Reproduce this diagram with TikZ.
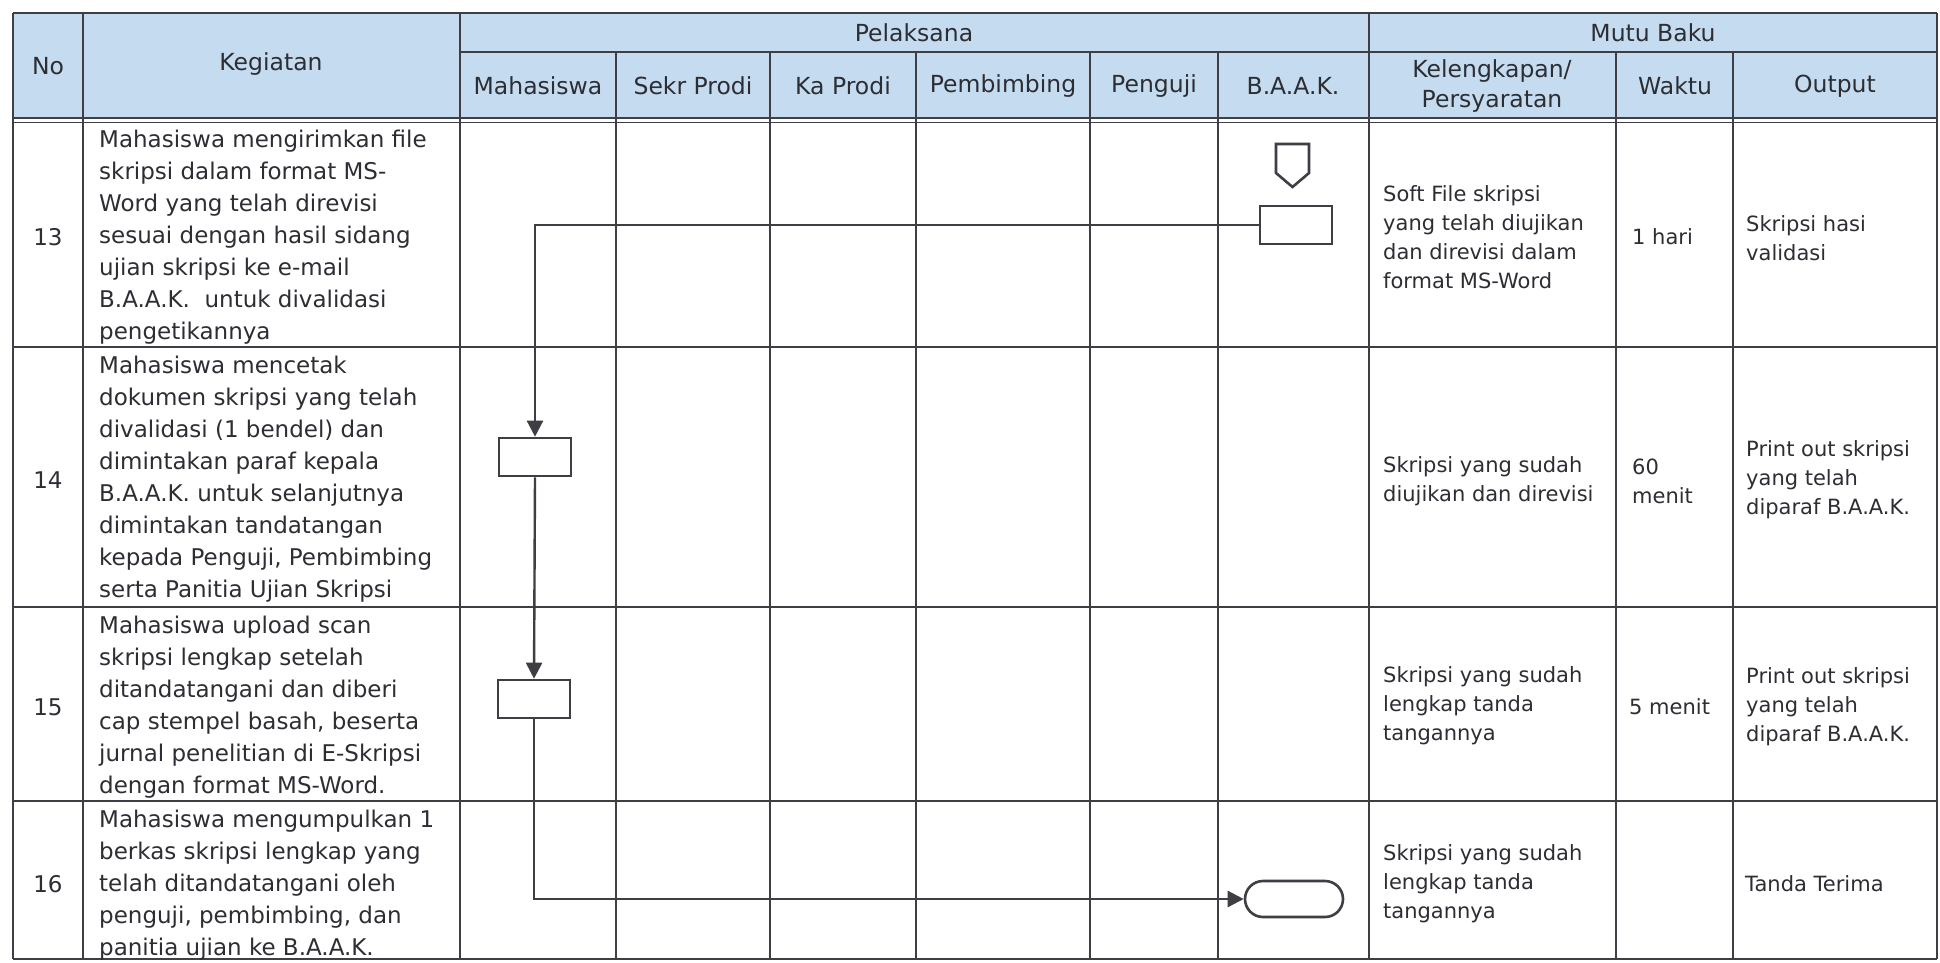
\documentclass[tikz,border=0pt]{standalone}
\usepackage{fontspec}
\setmainfont{DejaVu Sans}
\usetikzlibrary{arrows.meta}
\definecolor{hdr}{RGB}{197,220,240}
\definecolor{ink}{RGB}{45,45,52}
\definecolor{rule}{RGB}{62,62,68}
\begin{document}
\begin{tikzpicture}[x=1pt,y=-1pt,
  grid/.style={draw=rule, line width=1.7pt},
  keg/.style={font=\fontsize{23}{32}\selectfont, text=ink, align=left, anchor=west, inner sep=0pt},
  mutu/.style={font=\fontsize{21}{29}\selectfont, text=ink, align=left, anchor=west, inner sep=0pt},
  hd/.style={font=\fontsize{23.5}{30}\selectfont, text=ink, align=center, inner sep=0pt},
  num/.style={font=\fontsize{23}{30}\selectfont, text=ink, inner sep=0pt},
  proc/.style={draw=rule, line width=2.6pt, minimum width=72pt, minimum height=38pt, inner sep=0pt, fill=white},
  termbox/.style={draw=rule, line width=2.6pt, rounded corners=18pt, minimum width=98pt, minimum height=36pt, inner sep=0pt, fill=white},
  shapeline/.style={draw=rule, line width=2.6pt, line join=miter},
  flow/.style={draw=rule, line width=2.4pt, -{Triangle[length=16pt,width=16pt]}}
]
\useasboundingbox (0,0) rectangle (1940,962);
\fill[white] (0,0) rectangle (1940,962);
\fill[hdr] (13,13) rectangle (1937,118);

% horizontal rules
\draw[grid] (13,13) -- (1937,13);
\draw[grid] (460,52) -- (1937,52);
\draw[grid] (13,118) -- (1937,118);
\draw[grid] (13,122.5) -- (1937,122.5);
\draw[grid] (13,347) -- (1937,347);
\draw[grid] (13,607) -- (1937,607);
\draw[grid] (13,801) -- (1937,801);
\draw[grid] (13,959) -- (1937,959);
% vertical rules
\foreach \x in {13,83,460,1369,1937} \draw[grid] (\x,13) -- (\x,959);
\foreach \x in {616,770,916,1090,1218,1616,1733} \draw[grid] (\x,52) -- (\x,959);

% header texts
\node[hd] (hNo) at (48,66) {No};
\node[hd] (hKeg) at (271,64) {Kegiatan};
\node[hd] (hPel) at (914,33) {Pelaksana};
\node[hd] (hMutu) at (1653,33) {Mutu Baku};
\node[hd] (hMhs) at (538,86) {Mahasiswa};
\node[hd] (hSekr) at (693,86) {Sekr Prodi};
\node[hd] (hKa) at (843,86) {Ka Prodi};
\node[hd] (hPemb) at (1003,86) {Pembimbing};
\node[hd] (hPeng) at (1154,86) {Penguji};
\node[hd] (hBaak) at (1293,86) {B.A.A.K.};
\node[hd] (hKel) at (1492,86) {Kelengkapan/\\Persyaratan};
\node[hd] (hWak) at (1675,86) {Waktu};
\node[hd] (hOut) at (1835,86) {Output};

% row numbers
\node[num] (n13) at (48,237) {13};
\node[num] (n14) at (48,480) {14};
\node[num] (n15) at (48,707) {15};
\node[num] (n16) at (48,884) {16};

% Kegiatan
\node[keg] (k13) at (99,237) {Mahasiswa mengirimkan file\\skripsi dalam format MS-\\Word yang telah direvisi\\sesuai dengan hasil sidang\\ujian skripsi ke e-mail\\B.A.A.K.\ \ untuk divalidasi\\pengetikannya};
\node[keg] (k14) at (99,479) {Mahasiswa mencetak\\dokumen skripsi yang telah\\divalidasi (1 bendel) dan\\dimintakan paraf kepala\\B.A.A.K. untuk selanjutnya\\dimintakan tandatangan\\kepada Penguji, Pembimbing\\serta Panitia Ujian Skripsi};
\node[keg] (k15) at (99,707) {Mahasiswa upload scan\\skripsi lengkap setelah\\ditandatangani dan diberi\\cap stempel basah, beserta\\jurnal penelitian di E-Skripsi\\dengan format MS-Word.};
\node[keg] (k16) at (99,885) {Mahasiswa mengumpulkan 1\\berkas skripsi lengkap yang\\telah ditandatangani oleh\\penguji, pembimbing, dan\\panitia ujian ke B.A.A.K.};

% Kelengkapan
\node[mutu] (m13) at (1383,237) {Soft File skripsi\\yang telah diujikan\\dan direvisi dalam\\format MS-Word};
\node[mutu] (m14) at (1383,481) {Skripsi yang sudah\\diujikan dan direvisi};
\node[mutu] (m15) at (1383,706) {Skripsi yang sudah\\lengkap tanda\\tangannya};
\node[mutu] (m16) at (1383,884) {Skripsi yang sudah\\lengkap tanda\\tangannya};

% Waktu
\node[mutu] (w13) at (1632,237) {1 hari};
\node[mutu] (w14) at (1632,481) {60\\menit};
\node[mutu] (w15) at (1629,707) {5 menit};

% Output
\node[mutu] (o13) at (1746,238) {Skripsi hasi\\validasi};
\node[mutu] (o14) at (1746,480) {Print out skripsi\\yang telah\\diparaf B.A.A.K.};
\node[mutu] (o15) at (1746,707) {Print out skripsi\\yang telah\\diparaf B.A.A.K.};
\node[mutu] (o16) at (1745,884) {Tanda Terima};

% flow shapes
\coordinate (opc) at (1292.5,144);
\draw[shapeline] (opc) ++(-16.5,0) -- ++(0,29) -- ++(16.5,14) -- ++(16.5,-14) -- ++(0,-29) -- cycle;
\node[proc] (baak) at (1296,225) {};
\node[proc] (b1) at (535,457) {};
\node[proc] (b2) at (534,699) {};
\node[termbox] (term) at (1294,899) {};

% connectors
\draw[flow] (baak.west) -| (b1.north);
\draw[flow] (b1.south) -- (b2.north);
\draw[flow] (b2.south) |- (term.west);
\end{tikzpicture}
\end{document}
